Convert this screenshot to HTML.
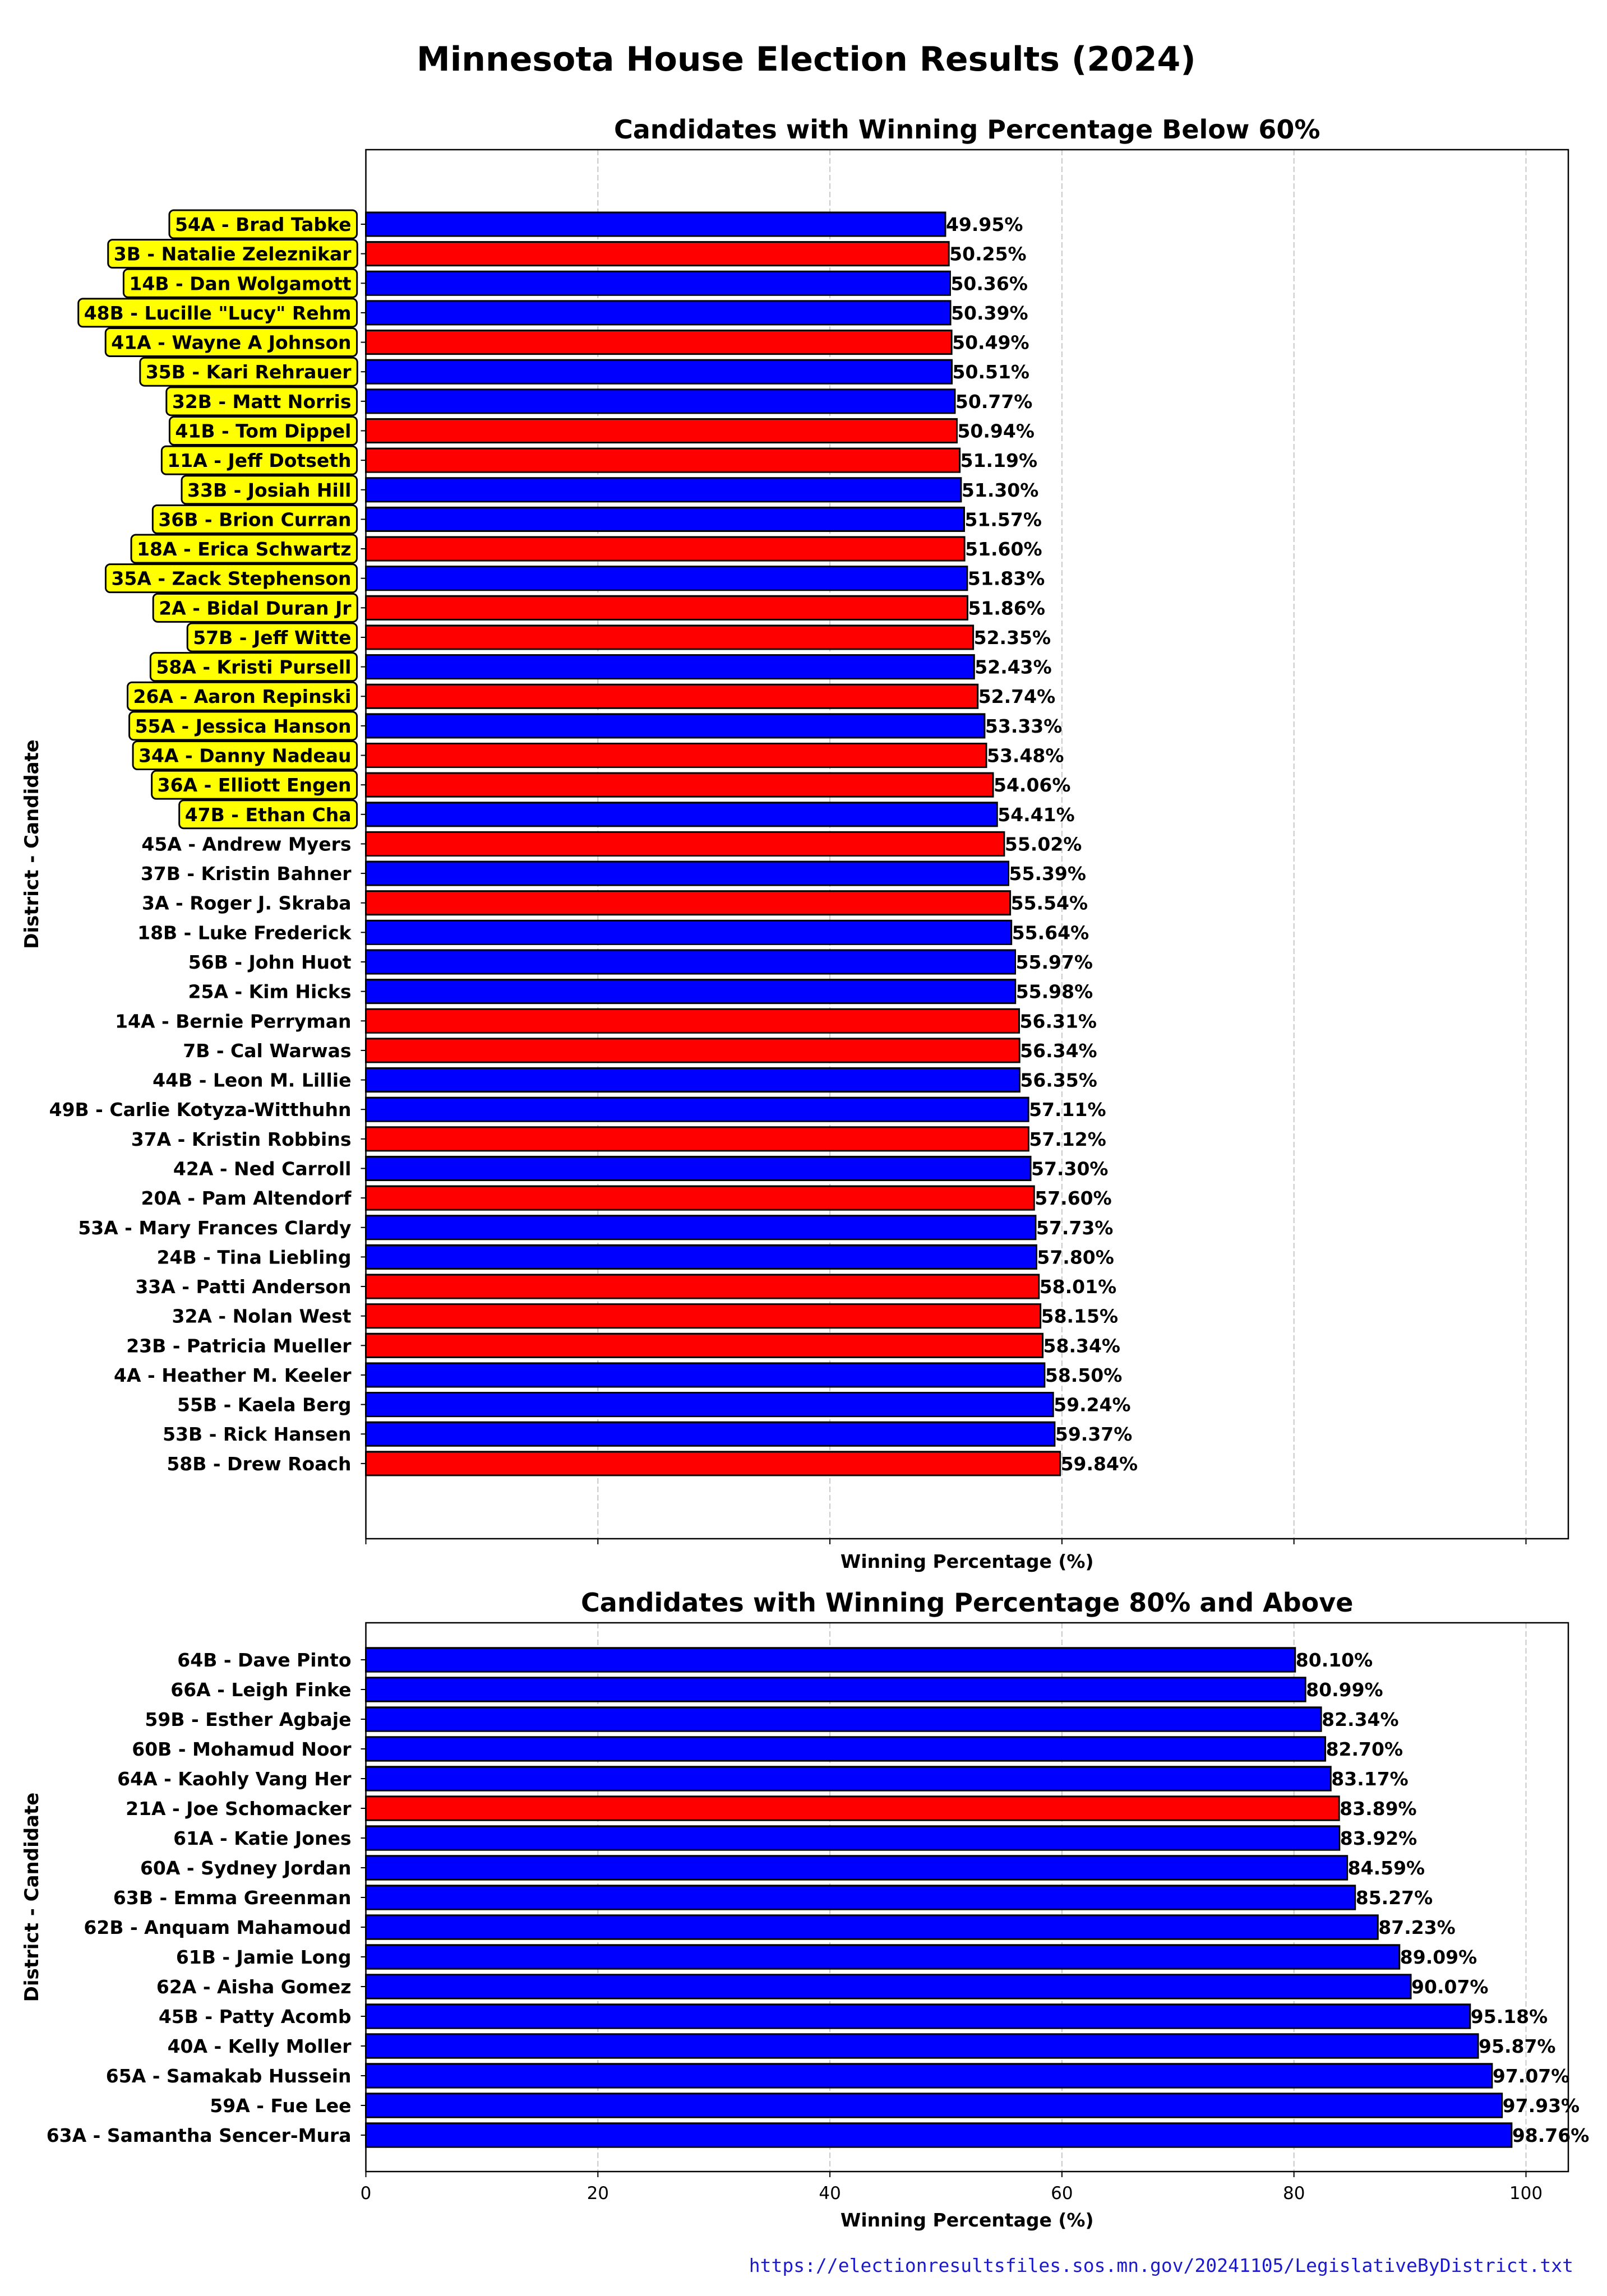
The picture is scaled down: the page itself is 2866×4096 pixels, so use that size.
<!DOCTYPE html>
<html><head><meta charset="utf-8"><style>
html,body{margin:0;padding:0;background:#fff;}
svg{display:block;font-family:"DejaVu Sans","Liberation Sans",sans-serif;font-weight:bold;}
</style></head><body>
<svg id="fig" width="2866" height="4096" viewBox="0 0 2866 4096" xmlns="http://www.w3.org/2000/svg">
<rect x="0" y="0" width="2866" height="4096" fill="#fff"/>
<text x="743" y="126" font-size="60" fill="#000">Minnesota House Election Results (2024)</text>
<g id="top"></g>
<g id="bot"></g>
<text x="2806" y="4053" text-anchor="end" font-family="'DejaVu Sans Mono','Liberation Mono',monospace" font-weight="normal" font-size="33" fill="#1a1acc">https://electionresultsfiles.sos.mn.gov/20241105/LegislativeByDistrict.txt</text>
</svg>
<script>
const topLabels = ["54A - Brad Tabke","3B - Natalie Zeleznikar","14B - Dan Wolgamott","48B - Lucille \"Lucy\" Rehm","41A - Wayne A Johnson","35B - Kari Rehrauer","32B - Matt Norris","41B - Tom Dippel","11A - Jeff Dotseth","33B - Josiah Hill","36B - Brion Curran","18A - Erica Schwartz","35A - Zack Stephenson","2A - Bidal Duran Jr","57B - Jeff Witte","58A - Kristi Pursell","26A - Aaron Repinski","55A - Jessica Hanson","34A - Danny Nadeau","36A - Elliott Engen","47B - Ethan Cha","45A - Andrew Myers","37B - Kristin Bahner","3A - Roger J. Skraba","18B - Luke Frederick","56B - John Huot","25A - Kim Hicks","14A - Bernie Perryman","7B - Cal Warwas","44B - Leon M. Lillie","49B - Carlie Kotyza-Witthuhn","37A - Kristin Robbins","42A - Ned Carroll","20A - Pam Altendorf","53A - Mary Frances Clardy","24B - Tina Liebling","33A - Patti Anderson","32A - Nolan West","23B - Patricia Mueller","4A - Heather M. Keeler","55B - Kaela Berg","53B - Rick Hansen","58B - Drew Roach"];
const topValues = [49.95,50.25,50.36,50.39,50.49,50.51,50.77,50.94,51.19,51.30,51.57,51.60,51.83,51.86,52.35,52.43,52.74,53.33,53.48,54.06,54.41,55.02,55.39,55.54,55.64,55.97,55.98,56.31,56.34,56.35,57.11,57.12,57.30,57.60,57.73,57.80,58.01,58.15,58.34,58.50,59.24,59.37,59.84];
const topParty = ["D","R","D","D","R","D","D","R","R","D","D","R","D","R","R","D","R","D","R","R","D","R","D","R","D","D","D","R","R","D","D","R","D","R","D","D","R","R","R","D","D","D","R"];
const topHighlighted = 21;
const botLabels = ["64B - Dave Pinto","66A - Leigh Finke","59B - Esther Agbaje","60B - Mohamud Noor","64A - Kaohly Vang Her","21A - Joe Schomacker","61A - Katie Jones","60A - Sydney Jordan","63B - Emma Greenman","62B - Anquam Mahamoud","61B - Jamie Long","62A - Aisha Gomez","45B - Patty Acomb","40A - Kelly Moller","65A - Samakab Hussein","59A - Fue Lee","63A - Samantha Sencer-Mura"];
const botValues = [80.10,80.99,82.34,82.70,83.17,83.89,83.92,84.59,85.27,87.23,89.09,90.07,95.18,95.87,97.07,97.93,98.76];
const botParty = ["D","D","D","D","D","R","D","D","D","D","D","D","D","D","D","D","D"];
const xTicks = [0,20,40,60,80,100];

const NS = "http://www.w3.org/2000/svg";
const AX_L = 652.5, AX_R = 2797;
function xs(v){ return AX_L + v * 20.69; }
function mk(tag, attrs, parent){
  const e = document.createElementNS(NS, tag);
  for (const k in attrs) e.setAttribute(k, attrs[k]);
  parent.appendChild(e); return e;
}

function panel(g, cfg){
  const {labels, values, party, top, bottom, y0, step, title, titleY, xlabelY, showTicks, hl, name} = cfg;
  const ys = i => y0 + i * step;
  xTicks.forEach(t => {
    if (t === 0) return;
    const l = mk('line', {x1: xs(t), x2: xs(t), y1: top, y2: bottom, stroke: '#c8c8c8', 'stroke-width': 2, 'stroke-dasharray': '10,5'}, g);
    
    
  });
  values.forEach((v, i) => {
    const c = ys(i), h = step * 0.8;
    const r = mk('rect', {x: xs(0), y: c - h / 2, width: xs(v) - xs(0), height: h, fill: party[i] === 'R' ? '#ff0000' : '#0000ff', stroke: '#000', 'stroke-width': 3}, g);
    
    
    const vt = mk('text', {x: xs(v) + 1, y: c + 12, 'font-size': 33, fill: '#000'}, g);
    vt.textContent = v.toFixed(2) + '%';
    
    
    mk('line', {x1: AX_L - 9, x2: AX_L, y1: c, y2: c, stroke: '#000', 'stroke-width': 2}, g);
    const lt = mk('text', {x: AX_L - 26, y: c + 12, 'font-size': 33, 'text-anchor': 'end', fill: '#000'}, g);
    lt.textContent = labels[i];
    
    
    if (i < hl) {
      const bb = lt.getBBox();
      const box = mk('rect', {x: bb.x - 10, y: c - 25, width: bb.width + 20, height: 50, rx: 8, ry: 8, fill: '#ffff00', stroke: '#000', 'stroke-width': 3}, g);
      
      
      g.insertBefore(box, lt);
    }
  });
  const fr = mk('rect', {x: AX_L, y: top, width: AX_R - AX_L, height: bottom - top, fill: 'none', stroke: '#000', 'stroke-width': 2.5}, g);
  
  
  xTicks.forEach(t => {
    mk('line', {x1: xs(t), x2: xs(t), y1: bottom, y2: bottom + 10, stroke: '#000', 'stroke-width': 2}, g);
    if (showTicks) {
      const tt = mk('text', {x: xs(t), y: bottom + 49, 'font-size': 31, 'font-weight': 'normal', 'text-anchor': 'middle', fill: '#000'}, g);
      tt.textContent = t;
      
      
    }
  });
  const ti = mk('text', {x: (AX_L + AX_R) / 2, y: titleY, 'font-size': 46, 'text-anchor': 'middle', fill: '#000'}, g);
  ti.textContent = title;
  
  
  const xl = mk('text', {x: (AX_L + AX_R) / 2, y: xlabelY, 'font-size': 33, 'text-anchor': 'middle', fill: '#000'}, g);
  xl.textContent = 'Winning Percentage (%)';
  
  
  const cy = (top + bottom) / 2;
  const yl = mk('text', {x: 0, y: 0, 'font-size': 34, 'text-anchor': 'middle', fill: '#000', transform: 'translate(68,' + cy + ') rotate(-90)'}, g);
  yl.textContent = 'District - Candidate';
  
  
}

panel(document.getElementById('top'), {labels: topLabels, values: topValues, party: topParty, top: 267, bottom: 2745, y0: 400, step: 52.64, title: 'Candidates with Winning Percentage Below 60%', titleY: 247, xlabelY: 2797, showTicks: false, hl: topHighlighted, name: 'top-chart'});
panel(document.getElementById('bot'), {labels: botLabels, values: botValues, party: botParty, top: 2895, bottom: 3874, y0: 2961, step: 53.0, title: 'Candidates with Winning Percentage 80% and Above', titleY: 2875, xlabelY: 3972, showTicks: true, hl: 0, name: 'bottom-chart'});
</script>
</body></html>
